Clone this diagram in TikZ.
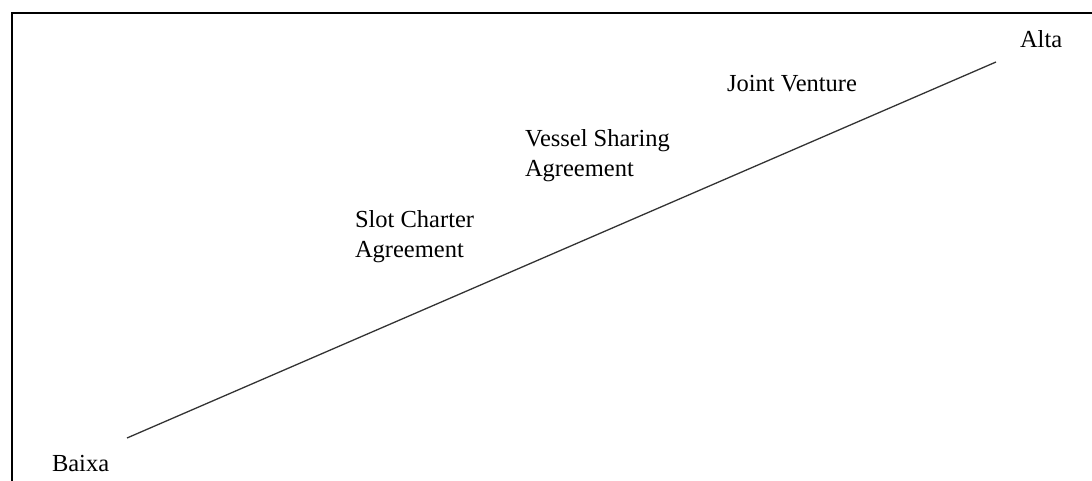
\documentclass[tikz,border=0pt]{standalone}
\usepackage{fontspec}
\setmainfont{Liberation Serif}
\begin{document}
\begin{tikzpicture}[x=1pt,y=-1pt,
  lbl/.style={inner sep=0pt,outer sep=0pt,anchor=base west,align=left,font=\fontsize{24.5}{30}\selectfont}]
\useasboundingbox (0,0) rectangle (1092,481);
\coordinate (tl) at (12,13);
\coordinate (tr) at (1092,13);
\coordinate (bl) at (12,481);
\draw[line width=2.2pt] (tr) -- (tl) -- (bl);
\coordinate (lo) at (127,438);
\coordinate (hi) at (996,62);
\draw[line width=1.3pt,draw=black!80] (lo) -- (hi);
\node[lbl] (alta) at (1020,48) {Alta};
\node[lbl] (baixa) at (52,471) {Baixa};
\node[lbl] (jv) at (727,92) {Joint Venture};
\node[lbl] (vsa) at (525,177) {Vessel Sharing\\Agreement};
\node[lbl] (sca) at (355,258) {Slot Charter\\Agreement};
\end{tikzpicture}
\end{document}
